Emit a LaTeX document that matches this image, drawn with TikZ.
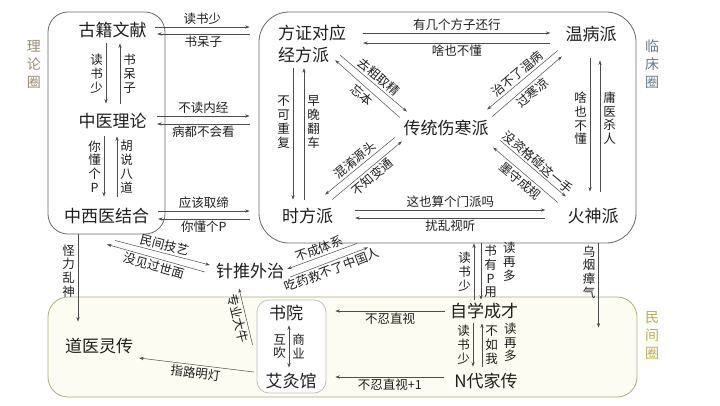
\documentclass[tikz,border=0pt]{standalone}
\usepackage{fontspec}
\setmainfont{Noto Sans CJK SC}
\usetikzlibrary{arrows.meta}
\definecolor{grpc}{RGB}{105,105,105}
\definecolor{minc}{RGB}{178,172,120}
\definecolor{minbg}{RGB}{252,252,242}
\definecolor{lilunc}{RGB}{150,140,112}
\definecolor{linchc}{RGB}{100,122,138}
\definecolor{minjc}{RGB}{185,176,70}
\definecolor{txtc}{RGB}{30,30,30}
\tikzset{
  grp/.style={draw=grpc,line width=0.8pt,inner sep=0pt},
  sch/.style={font=\fontsize{17}{22}\selectfont,text=txtc,inner sep=1pt,text height=14pt,text depth=2.5pt},
  schtwo/.style={font=\fontsize{17}{22}\selectfont,text=txtc,inner sep=1pt,align=left},
  lbl/.style={font=\fontsize{12.5}{13.8}\selectfont,text=txtc,inner sep=2pt},
  vlbl/.style={lbl,align=center,inner sep=3pt},
  tag/.style={font=\fontsize{14}{18}\selectfont,align=center,inner sep=0pt},
  arr/.style={-{Stealth[length=4.5pt,width=3.2pt]},line width=0.5pt,black!70},
  back/.style={{Stealth[length=4.5pt,width=3.2pt]}-,line width=0.5pt,black!70},
  both/.style={{Stealth[length=4.5pt,width=3.2pt]}-{Stealth[length=4.5pt,width=3.2pt]},line width=0.5pt,black!70},
}

\begin{document}
\begin{tikzpicture}[x=1pt,y=-1pt]
  \fill[white] (0,0) rectangle (720,405);
  \useasboundingbox (0,0) rectangle (720,405);

  \node[grp,draw=minc,fill=minbg,rounded corners=20pt,minimum width=589pt,minimum height=100pt] (mj) at (342.5,347) {};
  \node[grp,rounded corners=20pt,minimum width=117pt,minimum height=222pt] (lbox) at (106.5,123) {};
  \node[grp,rounded corners=30pt,minimum width=377pt,minimum height=231pt] (lc) at (447.5,127.5) {};
  \node[grp,draw=black!25,fill=white,rounded corners=12pt,minimum width=69pt,minimum height=93pt] (sybox) at (291.5,346.5) {};

  \node[tag,text=lilunc] (tl) at (34,64) {理\\论\\圈};
  \node[tag,text=linchc] (tc) at (652,64) {临\\床\\圈};
  \node[tag,text=minjc] (tm) at (652,336) {民\\间\\圈};

  \node[sch] (gj) at (112.5,31) {古籍文献};
  \node[sch] (zl) at (112.5,122) {中医理论};
  \node[sch] (zx) at (106.5,217) {中西医结合};
  \node[schtwo] (jf) at (312,44) {方证对应\\经方派};
  \node[sch] (wb) at (591,35) {温病派};
  \node[sch] (sh) at (446,129) {传统伤寒派};
  \node[sch] (sf) at (307.5,217) {时方派};
  \node[sch] (hs) at (593,217) {火神派};
  \node[sch] (zt) at (250,272) {针推外治};
  \node[sch] (zx2) at (484,312) {自学成才};
  \node[sch] (nd) at (486,382) {N代家传};
  \node[sch] (sy) at (286,314) {书院};
  \node[sch] (aj) at (291,382) {艾灸馆};
  \node[sch] (dy) at (99,347) {道医灵传};

  \draw[arr] ([xshift=7.5,yshift=4]gj.east) -- node[lbl,above]{读书少} ([xshift=-9,yshift=4]gj.east -| lc.west);
  \draw[back] ([xshift=9.5,yshift=-3]gj.east) -- node[lbl,below]{书呆子} ([xshift=-9,yshift=-3]gj.east -| lc.west);
  \draw[arr] ([xshift=9.5,yshift=6]zl.east) -- node[lbl,above]{不读内经} ([xshift=-9,yshift=6]zl.east -| lc.west);
  \draw[back] ([xshift=9.5,yshift=-2]zl.east) -- node[lbl,below]{病都不会看} ([xshift=-9,yshift=-2]zl.east -| lc.west);
  \draw[arr] ([xshift=8,yshift=6]zx.east) -- node[lbl,above]{应该取缔} ([xshift=-9,yshift=6]zx.east -| lc.west);
  \draw[back] ([xshift=8,yshift=-2]zx.east) -- node[lbl,below]{你懂个P} ([xshift=-9,yshift=-2]zx.east -| lc.west);

  \draw[arr] ([xshift=-6.5,yshift=-3]gj.south) -- node[vlbl,left]{读\\书\\少} ([xshift=-6.5,yshift=9]zl.north);
  \draw[back] ([xshift=7.5,yshift=-3]gj.south) -- node[vlbl,right]{书\\呆\\子} ([xshift=7.5,yshift=9]zl.north);
  \draw[arr] ([xshift=-8.5,yshift=-5]zl.south) -- node[vlbl,left]{你\\懂\\个\\P} ([xshift=-2.5,yshift=11]zx.north);
  \draw[back] ([xshift=4.5,yshift=-5]zl.south) -- node[vlbl,right]{胡\\说\\八\\道} ([xshift=10.5,yshift=11]zx.north);

  \draw[arr] ([xshift=16,yshift=11]jf.east) -- node[lbl,above]{有几个方子还行} ([xshift=-14,yshift=11]jf.east -| wb.west);
  \draw[back] ([xshift=16,yshift=1]jf.east) -- node[lbl,below]{啥也不懂} ([xshift=-14,yshift=1]jf.east -| wb.west);
  \draw[arr] ([xshift=-7,yshift=9]jf.south east) -- node[lbl,sloped,above]{去粗取精} ([xshift=4.5,yshift=8]sh.north west);
  \draw[back] ([xshift=-12,yshift=4]jf.south east) -- node[lbl,sloped,below]{忘本} ([xshift=-2.5,yshift=2]sh.north west);
  \draw[back] ([xshift=-2.5,yshift=10]sh.north east) -- node[lbl,sloped,above]{治不了温病} ([xshift=-6.5,yshift=-6]wb.south west);
  \draw[arr] ([xshift=2.5,yshift=3]sh.north east) -- node[lbl,sloped,below]{过寒凉} ([xshift=-2.5,yshift=-12]wb.south west);
  \draw[arr] ([xshift=10.5,yshift=-2]sh.south east) -- node[lbl,sloped,above]{没资格碰这一手} ([xshift=-0.5,yshift=11]hs.north west);
  \draw[back] ([xshift=3.5,yshift=-9]sh.south east) -- node[lbl,sloped,below]{墨守成规} ([xshift=-8.5,yshift=5]hs.north west);
  \draw[back] ([xshift=-9,yshift=13]sf.north east) -- node[lbl,sloped,above]{混淆源头} ([xshift=-7.5,yshift=1]sh.south west);
  \draw[arr] ([xshift=-2,yshift=8]sf.north east) -- node[lbl,sloped,below]{不知变通} ([xshift=-0.5,yshift=-3]sh.south west);
  \draw[arr] ([xshift=-19,yshift=-4]jf.south) -- node[vlbl,left,pos=0.41]{不\\可\\重\\复} ([xshift=-14.5,yshift=8]sf.north);
  \draw[back] ([xshift=-8,yshift=-4]jf.south) -- node[vlbl,right,pos=0.41]{早\\晚\\翻\\车} ([xshift=-3.5,yshift=8]sf.north);
  \draw[arr] ([xshift=-1,yshift=-14]wb.south) -- node[vlbl,left,pos=0.45]{啥\\也\\不\\懂} ([xshift=-3,yshift=16]hs.north);
  \draw[back] ([xshift=9,yshift=-16]wb.south) -- node[vlbl,right,pos=0.44]{庸\\医\\杀\\人} ([xshift=7,yshift=16]hs.north);
  \draw[arr] ([xshift=21,yshift=7]sf.east) -- node[lbl,above]{这也算个门派吗} ([xshift=-21,yshift=7]sf.east -| hs.west);
  \draw[back] ([xshift=21,yshift=-1]sf.east) -- node[lbl,below]{扰乱视听} ([xshift=-21,yshift=-1]sf.east -| hs.west);

  \draw[arr] ([xshift=-28.5]lbox.south) -- node[vlbl,left,pos=0.42]{怪\\力\\乱\\神} ([xshift=-21,yshift=16]dy.north);
  \draw[arr] ([xshift=8.5,yshift=-14]zx.south) -- node[lbl,sloped,above]{民间技艺} ([xshift=-5,yshift=7]zt.west);
  \draw[back] ([xshift=0.5,yshift=-18]zx.south) -- node[lbl,sloped,below]{没见过世面} ([xshift=-10]zt.west);
  \draw[back] ([xshift=2,yshift=3]zt.east) -- node[lbl,sloped,above]{不成体系} ([xshift=49.5,yshift=-17]sf.south);
  \draw[arr] ([xshift=5,yshift=-5]zt.east) -- node[lbl,sloped,below]{吃药救不了中国人} ([xshift=60.5,yshift=-21]sf.south);
  \draw[back] ([xshift=-11,yshift=-7]zt.south) -- node[lbl,sloped,below]{专业大牛} ([xshift=-4,yshift=1.5]sybox.west);
  \draw[arr] ([xshift=-10,yshift=3]zx2.north) -- node[vlbl,left]{读\\书\\少} ([xshift=-10]zx2.north |- lc.south);
  \draw[arr] ([xshift=-3]zx2.north |- lc.south) -- node[vlbl,right] (yp) {书\\有\\P\\用} ([xshift=-3,yshift=3]zx2.north);
  \node[vlbl,anchor=north west,inner sep=0pt] (zd1) at ([xshift=3]yp.north east) {读\\再\\多};
  \draw[arr] ([xshift=151]lc.south) -- node[vlbl,left,pos=0.34]{乌\\烟\\瘴\\气} ([xshift=256,yshift=-31]mj.north);

  \draw[arr] ([xshift=-4,yshift=1]zx2.west) -- node[lbl,below]{不忍直视} ([xshift=9,yshift=1]zx2.west -| sybox.east);
  \draw[arr] ([xshift=-9,yshift=5]nd.west) -- node[lbl,below]{不忍直视+1} ([xshift=9,yshift=5]nd.west -| sybox.east);
  \draw[arr] ([xshift=-11,yshift=-2]zx2.south) -- node[vlbl,left]{读\\书\\少} ([xshift=-13,yshift=6]nd.north);
  \draw[back] ([xshift=-2,yshift=-2]zx2.south) -- node[vlbl,right] (bw) {不\\如\\我} ([xshift=-4,yshift=6]nd.north);
  \node[vlbl,anchor=north west,inner sep=0pt] (zd2) at ([xshift=3]bw.north east) {读\\再\\多};
  \draw[both] ([xshift=3,yshift=-2]sy.south) -- node[vlbl,left]{互\\吹} node[vlbl,right]{商\\业} ([xshift=-2,yshift=5]aj.north);
  \draw[back] ([xshift=5,yshift=-11]dy.east) -- node[lbl,sloped,below]{指路明灯} ([xshift=-10.5,yshift=10]aj.west);
\end{tikzpicture}
\end{document}
